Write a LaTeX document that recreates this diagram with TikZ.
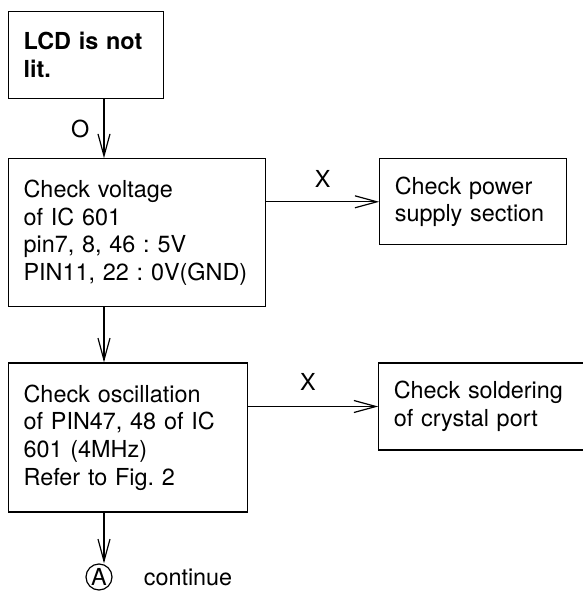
\documentclass[tikz,border=0pt]{standalone}
\usepackage{fontspec}
\setmainfont{TeX Gyre Heros}
\usetikzlibrary{arrows.meta, positioning}
\frenchspacing

\begin{document}
\begin{tikzpicture}[
  x=1pt, y=-1pt,
  box/.style={rectangle, draw, line width=1.2pt, align=left,
              inner xsep=15pt, inner ysep=0pt,
              font=\fontsize{23.4}{27.6}\selectfont},
  start/.style={box, font=\fontsize{23.4}{27.6}\selectfont\bfseries},
  arr/.style={-{Straight Barb[length=22pt, width=12pt, line width=1.2pt]},
              line width=1.2pt},
  lbl/.style={font=\fontsize{23.4}{27.6}\selectfont, inner sep=0pt},
]
  \useasboundingbox (0,0) rectangle (583,592);

  \node[start, text width=125pt, minimum height=87pt, anchor=north west] (lcd) at (8,11) {LCD is not\\lit.};
  \node[box, text width=227pt, minimum height=148pt, below=59pt of lcd.south west, anchor=north west] (volt) {Check voltage\\of IC 601\\pin7, 8, 46 : 5V\\PIN11, 22 : 0V(GND)};
  \node[box, text width=209pt, minimum height=149pt, below=55pt of volt.south west, anchor=north west] (osc) {Check oscillation\\of PIN47, 48 of IC\\601 (4MHz)\\Refer to Fig. 2};
  \node[box, text width=157pt, minimum height=86pt, right=113pt of volt.north east, anchor=north west] (supply) {Check power\\supply section};
  \node[box, text width=185pt, minimum height=87pt, right=130pt of osc.north east, anchor=north west] (solder) {Check soldering\\of crystal port};
  \node[lbl, circle, draw, line width=1.2pt, minimum size=26pt] (endA) at (99,577) {A};
  \node[lbl, right=31pt of endA] (cont) {continue};

  \coordinate (spine) at (104,0);
  \draw[arr] (lcd.south -| spine) -- node[lbl, left=14pt] (okmark) {O} (volt.north -| spine);
  \draw[arr] (volt.south -| spine) -- (osc.north -| spine);
  \draw[arr] (osc.south -| spine) -- (endA.north -| spine);

  \draw[arr] (supply.west -| volt.east) -- node[lbl, above=14pt] (fail1) {X} (supply.west);
  \draw[arr] (solder.west -| osc.east) -- node[lbl, above=15pt, pos=0.46] (fail2) {X} (solder.west);
\end{tikzpicture}
\end{document}
